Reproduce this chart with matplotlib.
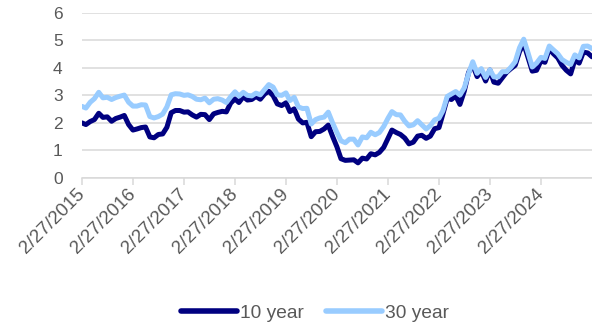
import matplotlib
matplotlib.use("Agg")
import matplotlib.pyplot as plt
import pandas as pd

# Month-end Treasury yields (%), Feb 2015 - Feb 2025
start = pd.Timestamp(2015, 2, 27)
dates = [start + pd.DateOffset(months=i) for i in range(121)]

ten_year = [
    2.00, 1.94, 2.05, 2.12, 2.35, 2.20, 2.22, 2.06, 2.16, 2.21, 2.27,
    1.94, 1.74, 1.78, 1.83, 1.85, 1.49, 1.46, 1.58, 1.60, 1.84, 2.37, 2.45,
    2.45, 2.39, 2.40, 2.29, 2.21, 2.31, 2.30, 2.12, 2.33, 2.38, 2.42, 2.40,
    2.72, 2.87, 2.74, 2.95, 2.83, 2.85, 2.96, 2.86, 3.05, 3.15, 2.99, 2.69,
    2.63, 2.73, 2.41, 2.51, 2.14, 2.00, 2.02, 1.50, 1.68, 1.69, 1.78, 1.92,
    1.51, 1.13, 0.70, 0.64, 0.65, 0.66, 0.55, 0.72, 0.69, 0.88, 0.84, 0.93,
    1.11, 1.44, 1.74, 1.65, 1.58, 1.45, 1.24, 1.30, 1.52, 1.55, 1.44, 1.52,
    1.79, 1.83, 2.32, 2.89, 2.85, 2.98, 2.67, 3.15, 3.83, 4.10, 3.68, 3.88,
    3.52, 3.92, 3.48, 3.44, 3.64, 3.84, 3.97, 4.09, 4.59, 4.88, 4.37, 3.88,
    3.91, 4.25, 4.20, 4.69, 4.51, 4.36, 4.09, 3.91, 3.78, 4.28, 4.17, 4.57,
    4.54, 4.40,
]

thirty_year = [
    2.60, 2.54, 2.75, 2.88, 3.11, 2.91, 2.93, 2.85, 2.92, 2.97, 3.01,
    2.75, 2.61, 2.61, 2.66, 2.65, 2.23, 2.18, 2.23, 2.32, 2.58, 3.02, 3.06,
    3.05, 3.00, 3.02, 2.96, 2.86, 2.84, 2.90, 2.73, 2.86, 2.88, 2.83, 2.74,
    2.95, 3.13, 2.97, 3.11, 3.00, 2.98, 3.08, 3.02, 3.21, 3.39, 3.30, 3.02,
    3.00, 3.09, 2.81, 2.93, 2.58, 2.52, 2.53, 1.96, 2.12, 2.18, 2.21, 2.39,
    2.00, 1.65, 1.35, 1.28, 1.41, 1.41, 1.20, 1.49, 1.46, 1.66, 1.57, 1.65,
    1.87, 2.17, 2.41, 2.30, 2.29, 2.06, 1.89, 1.93, 2.08, 1.93, 1.78, 1.90,
    2.11, 2.17, 2.44, 2.96, 3.05, 3.14, 3.01, 3.27, 3.79, 4.22, 3.80, 3.97,
    3.65, 3.93, 3.67, 3.67, 3.86, 3.86, 4.02, 4.22, 4.73, 5.04, 4.54, 4.03,
    4.17, 4.38, 4.34, 4.79, 4.65, 4.51, 4.30, 4.20, 4.12, 4.47, 4.36, 4.78,
    4.79, 4.70,
]

tick_years = list(range(2015, 2025))
tick_dates = [pd.Timestamp(y, 2, 27) for y in tick_years]
tick_labels = [f"2/27/{y}" for y in tick_years]

series_names = ["10 year", "30 year"]
colors = ["#000080", "#99CCFF"]
text_color = "#595959"
grid_color = "#D9D9D9"

plt.rcParams["font.family"] = ["Liberation Sans", "DejaVu Sans"]

fig = plt.figure(figsize=(5.92, 3.26), dpi=100)
ax = fig.add_axes([0.1385, 0.454, 0.8615, 0.507])

ax.plot(dates, ten_year, color=colors[0], lw=3.6, solid_capstyle="round",
        solid_joinstyle="round", label=series_names[0], zorder=3)
ax.plot(dates, thirty_year, color=colors[1], lw=3.6, solid_capstyle="round",
        solid_joinstyle="round", label=series_names[1], zorder=4)

ax.set_ylim(0, 6)
ax.set_yticks(range(0, 7))
ax.set_xlim(start, start + pd.DateOffset(months=120))
ax.set_xticks(tick_dates)
ax.set_xticklabels(tick_labels, rotation=45, ha="right", va="center",
                   rotation_mode="anchor")

ax.grid(axis="y", color=grid_color, lw=1.1)
ax.set_axisbelow(True)
for s in ["left", "right", "top"]:
    ax.spines[s].set_visible(False)
ax.spines["bottom"].set_color(grid_color)
ax.spines["bottom"].set_linewidth(1.1)

ax.tick_params(axis="y", length=0, pad=14, labelsize=12.5, labelcolor=text_color)
ax.tick_params(axis="x", length=5, width=1.1, color=grid_color, pad=5,
               labelsize=13.5, labelcolor=text_color)

leg = fig.legend(loc="center", bbox_to_anchor=(315 / 592, 1 - 313 / 326),
                 ncol=2, frameon=False, fontsize=13.8, handlelength=2.9,
                 handletextpad=0.15, columnspacing=1.2, labelcolor=text_color)
for line in leg.get_lines():
    line.set_linewidth(4)
    line.set_solid_capstyle("round")

fig.savefig("out.png", dpi=100)
